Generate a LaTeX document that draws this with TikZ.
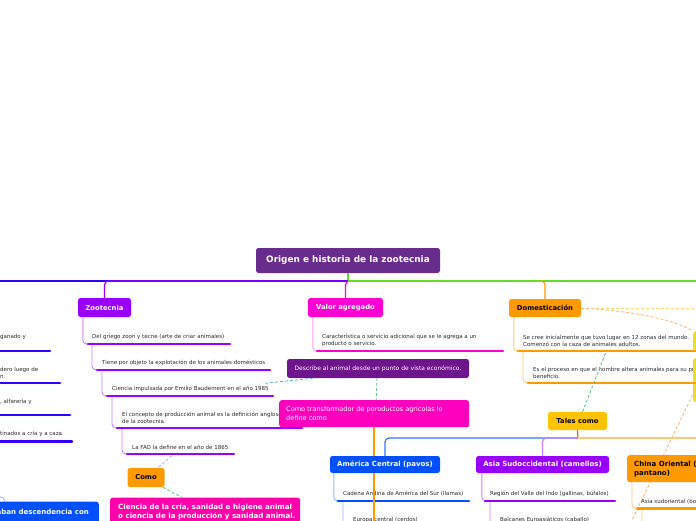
\documentclass[tikz,border=0pt]{standalone}
\usepackage{fontspec}
\setmainfont{DejaVu Sans}
\definecolor{titlec}{RGB}{104,44,140}
\definecolor{violetc}{RGB}{153,0,255}
\definecolor{violetl}{RGB}{200,130,255}
\definecolor{magc}{RGB}{255,0,212}
\definecolor{orangec}{RGB}{255,153,0}
\definecolor{orangel}{RGB}{255,200,120}
\definecolor{goldc}{RGB}{255,196,0}
\definecolor{pinkc}{RGB}{255,0,170}
\definecolor{pinkb}{RGB}{255,0,190}
\definecolor{darkpurple}{RGB}{110,20,140}
\definecolor{bluec}{RGB}{0,80,255}
\definecolor{bluel}{RGB}{150,180,255}
\definecolor{indigoc}{RGB}{51,0,255}
\definecolor{greenc}{RGB}{100,220,40}
\definecolor{yellowc}{RGB}{235,220,40}
\definecolor{dashgreen}{RGB}{100,200,140}
\definecolor{dashblue}{RGB}{100,180,240}
\definecolor{dashlav}{RGB}{200,170,255}
\definecolor{dashyel}{RGB}{255,215,110}
\definecolor{dashora}{RGB}{255,185,120}
\definecolor{stemc}{RGB}{220,100,60}
\definecolor{textc}{RGB}{40,40,40}
\begin{document}
\begin{tikzpicture}[x=1pt,y=-1pt,
  box/.style={rounded corners=2.5pt, inner sep=0pt, font=\bfseries\fontsize{6.8}{8}\selectfont, text=white},
  plain/.style={anchor=west, inner sep=0pt, align=left, text=textc, font=\fontsize{5.5}{7}\selectfont},
  boxtext/.style={anchor=west, inner sep=0pt, align=left, text=white},
  bar/.style={line width=2.6pt, line cap=round},
  link/.style={line width=0.9pt, rounded corners=4pt},
  dashlink/.style={line width=0.9pt, dash pattern=on 3pt off 2pt}
]
\useasboundingbox (0,0) rectangle (696,520);
\clip (0,0) rectangle (696,520);

% ---------- title and main branches ----------
\node[box, fill=titlec, minimum width=184pt, minimum height=25pt, font=\bfseries\fontsize{8.9}{10}\selectfont] (title) at (348,260.5) {Origen e historia de la zootecnia};
\coordinate (hub) at (348,281);
\coordinate (leftend) at (-5,281);
\coordinate (rightend) at (705,281);
\coordinate (dh) at (540,281);

\node[box, fill=violetc, minimum width=53pt, minimum height=19pt] (zoo) at (104.5,307.5) {Zootecnia};
\node[box, fill=magc, minimum width=75pt, minimum height=19pt] (valor) at (345.5,307.5) {Valor agregado};
\node[box, fill=orangec, text=black, minimum width=72pt, minimum height=18pt] (dom) at (545,308) {Domesticación};

\draw[greenc, line width=1.2pt] (title.south) -- (hub);
\draw[indigoc, line width=1.2pt] (hub) -- (leftend);
\draw[violetc, link, line width=1.2pt] (hub) -- (104.5,281) -- (zoo.north);
\draw[magc, link, line width=1.2pt] (hub) -| (valor.north);
\draw[greenc, line width=1.2pt] (hub) -- (rightend);
\draw[orangec, link, line width=1.2pt] (dh) -| (dom.north);

% ---------- left column (cut) ----------
\node[plain] (l1t) at (0,337) {ganado y};
\node[plain] (l2t) at (0,372.5) {dero luego de\\n.};
\node[plain] (l3t) at (0,401.5) {, alfarería y};
\node[plain] (l4t) at (0,433.5) {tinados a cría y a caza.};
\coordinate (l1s) at (-5,351); \coordinate (l1e) at (50,351);
\coordinate (l2s) at (-5,383); \coordinate (l2e) at (60,383);
\coordinate (l3s) at (-5,415); \coordinate (l3e) at (70,415);
\coordinate (l4s) at (-5,441.5); \coordinate (l4e) at (72,441.5);
\draw[indigoc, bar] (l1s) -- (l1e);
\draw[indigoc, bar] (l2s) -- (l2e);
\draw[indigoc, bar] (l3s) -- (l3e);
\draw[indigoc, bar] (l4s) -- (l4e);

% ---------- Zootecnia children ----------
\coordinate (z1s) at (88,344);  \coordinate (z1e) at (230,344);
\coordinate (z2s) at (97,370);  \coordinate (z2e) at (270,370);
\coordinate (z3s) at (107,396); \coordinate (z3e) at (273,396);
\coordinate (z4s) at (117,428); \coordinate (z4e) at (302,428);
\coordinate (z5s) at (127,454); \coordinate (z5e) at (234,454);
\node[plain] (z1t) at (92,337) {Del griego zoon y tecne (arte de criar animales)};
\node[plain] (z2t) at (102,363) {Tiene por objeto la explotación de los animales domésticos};
\node[plain] (z3t) at (112,389) {Ciencia impulsada por Emilio Baudement en el año 1985};
\node[plain] (z4t) at (122,417.5) {El concepto de producción animal es la definición anglosajona\\de la zootecnia.};
\node[plain] (z5t) at (132,447) {La FAO la define en el año de 1865};
\draw[violetl, link] ([xshift=5pt]zoo.south west) |- (z1s);
\draw[violetl, link] ([xshift=4pt]z1s) |- (z2s);
\draw[violetl, link] ([xshift=5pt]z2s) |- (z3s);
\draw[violetl, link] ([xshift=5pt]z3s) |- (z4s);
\draw[violetl, link] ([xshift=5pt]z4s) |- (z5s);
\draw[violetc, bar] (z1s) -- (z1e);
\draw[violetc, bar] (z2s) -- (z2e);
\draw[violetc, bar] (z3s) -- (z3e);
\draw[violetc, bar] (z4s) -- (z4e);
\draw[violetc, bar] (z5s) -- (z5e);

% ---------- Valor agregado child ----------
\coordinate (v1s) at (317,351); \coordinate (v1e) at (503,351);
\node[plain] (v1t) at (322,340.5) {Característica o servicio adicional que se le agrega a un\\producto o servicio.};
\draw[magc!40, link] ([xshift=5pt]valor.south west) |- (v1s);
\draw[magc, bar] (v1s) -- (v1e);

% ---------- Domesticación children ----------
\coordinate (d1s) at (518,351); \coordinate (d1e) at (705,351);
\coordinate (d2s) at (528,383); \coordinate (d2e) at (705,383);
\node[plain] (d1t) at (523,340.5) {Se cree inicialmente que tuvo lugar en 12 zonas del mundo.\\Comenzó con la caza de animales adultos.};
\node[plain] (d2t) at (533,372.5) {Es el proceso en que el hombre altera animales para su propio\\beneficio.};
\node[fill=yellowc, rounded corners=2.5pt, inner sep=0pt, minimum width=30pt, minimum height=20pt, anchor=north west] (yA) at (693,331) {};
\node[fill=yellowc, rounded corners=2.5pt, inner sep=0pt, minimum width=30pt, minimum height=44pt, anchor=north west] (yB) at (693,358) {};
\draw[orangel, link] ([xshift=5pt]dom.south west) |- (d1s);
\draw[orangel, link] ([xshift=5pt]d1s) |- (d2s);
\draw[orangec, bar] (d1s) -- (d1e);
\draw[orangec, bar] (d2s) -- (d2e);
\coordinate (yE) at (700,308);
\draw[dashyel, dashlink] (dom.east) -- (yE);
\draw[dashora, dashlink] (dom.east) .. controls (630,311) and (670,318) .. (yA.north west);

% ---------- Describe / Como transformador ----------
\node[box, fill=darkpurple, minimum width=182pt, minimum height=19pt, font=\fontsize{6.0}{7}\selectfont] (desc) at (378,368.5) {Describe al animal desde un punto de vista económico.};
\node[box, fill=pinkb, minimum width=190pt, minimum height=27pt, anchor=north west] (ctrans) at (279,400) {};
\node[boxtext, font=\fontsize{6.55}{9}\selectfont] (ctranst) at (286,413.5) {Como transformador de poroductos agricolas lo\\define como};
\coordinate (dbend) at (263,383.5);
\draw[dashblue, dashlink] ([xshift=26pt]desc.south west) -- (dbend);
\draw[dashgreen, dashlink] ([xshift=-1pt]desc.south) -- ([xshift=2pt]ctrans.north);

% ---------- Como / Ciencia ----------
\node[box, fill=orangec, text=black, minimum width=37pt, minimum height=19pt] (como) at (146,477.5) {Como};
\node[box, fill=pinkc, minimum width=190pt, minimum height=33pt, anchor=north west] (ciencia) at (110,497.5) {};
\node[boxtext, font=\bfseries\fontsize{7.1}{8.5}\selectfont] (cienciat) at (118,512) {Ciencia de la cría, sanidad e higiene animal\\o ciencia de la producción y sanidad animal.};
\coordinate (z5m) at (172,455.5);
\draw[dashlav, dashlink] (z5m) -- ([xshift=12pt]como.north);
\draw[dashgreen, dashlink] ([xshift=17pt]como.south) -- ([xshift=72pt]ciencia.north west);

% ---------- bottom-left blue box ----------
\node[box, fill=bluec, minimum width=120pt, minimum height=28pt, anchor=north east] (lbox) at (99,501.5) {};
\node[anchor=east, inner sep=0pt, text=white, font=\bfseries\fontsize{7}{8}\selectfont] (lboxt) at (89,512) {aban descendencia con};
\coordinate (lc) at (-1,496.5);
\draw[bluel, line width=0.9pt] (lc) to[out=0,in=90] ([xshift=-94pt]lbox.north east);

% ---------- Tales como ----------
\node[box, fill=goldc, text=black, minimum width=59pt, minimum height=18pt] (tales) at (577.5,421) {Tales como};
\coordinate (gd) at (606,352);
\draw[dashgreen, dashlink] ([xshift=5pt]tales.north) -- (gd);
\coordinate (od1) at (697,386);
\coordinate (od2) at (631,522);
\draw[dashora, dashlink] (od1) -- (od2);

\node[box, fill=bluec, minimum width=110pt, minimum height=17pt, font=\bfseries\fontsize{7}{8}\selectfont] (amer) at (385,464.5) {América Central (pavos)};
\node[box, fill=violetc, minimum width=133pt, minimum height=17pt, font=\bfseries\fontsize{7}{8}\selectfont] (asia) at (542.5,464.5) {Asia Sudoccidental (camellos)};
\node[box, fill=orangec, minimum width=100pt, minimum height=27pt, anchor=north west] (china) at (627,455) {};
\node[anchor=west, inner sep=0pt, align=left, text=black, font=\bfseries\fontsize{7}{9}\selectfont] (chinat) at (634,468.5) {China Oriental (búfalo de\\pantano)};

\coordinate (th) at (578,438);
\coordinate (thrend) at (705,438);
\draw[stemc, line width=1.2pt] (tales.south) -- (th);
\draw[bluec!80, link, line width=1.2pt] (th) -- (385,438) -- (amer.north);
\draw[violetl, link, line width=1.2pt] (th) -- (542.5,438) -- (asia.north);
\draw[orangel, line width=1.2pt] (th) -- (thrend);

% América children
\coordinate (a1s) at (338,501); \coordinate (a1e) at (469,501);
\coordinate (a2s) at (348,535);
\node[plain] (a1t) at (343,494) {Cadena Andina de América del Sur (llamas)};
\node[plain] (a2t) at (353,519.5) {Europa central (cerdos)};
\draw[bluel, link] ([xshift=4pt]amer.south west) |- (a1s);
\draw[bluel, link] ([xshift=5pt]a1s) |- (a2s);
\draw[bluec, bar] (a1s) -- (a1e);

% Asia children
\coordinate (s1s) at (485,501); \coordinate (s1e) at (615,501);
\coordinate (s2s) at (495,535);
\node[plain] (s1t) at (490,494) {Región del Valle del Indo (gallinas, búfalos)};
\node[plain] (s2t) at (500,519.5) {Balcanes Euroasiáticos (caballo)};
\draw[violetl, link] ([xshift=6pt]asia.south west) |- (s1s);
\draw[violetl, link] ([xshift=5pt]s1s) |- (s2s);
\draw[violetc, bar] (s1s) -- (s1e);

% China children
\coordinate (c1s) at (637,508.5); \coordinate (c1e) at (705,508.5);
\coordinate (c2s) at (647,540);
\node[plain] (c1t) at (641,501.5) {Asia sudoriental (bovinos)};
\draw[orangel, link] ([xshift=5pt]china.south west) |- (c1s);
\draw[orangel, link] ([xshift=5pt]c1s) |- (c2s);
\draw[orangec, bar] (c1s) -- (c1e);

% orange trunk from "Como transformador" (behind América box)
\coordinate (ox) at (374,0);
\coordinate (oxb) at (374,525);
\draw[orangec, line width=2.8pt] (ctrans.south -| ox) -- (amer.north -| ox);
\draw[orangec, line width=2.8pt] (amer.south -| ox) -- (oxb);
\end{tikzpicture}
\end{document}
